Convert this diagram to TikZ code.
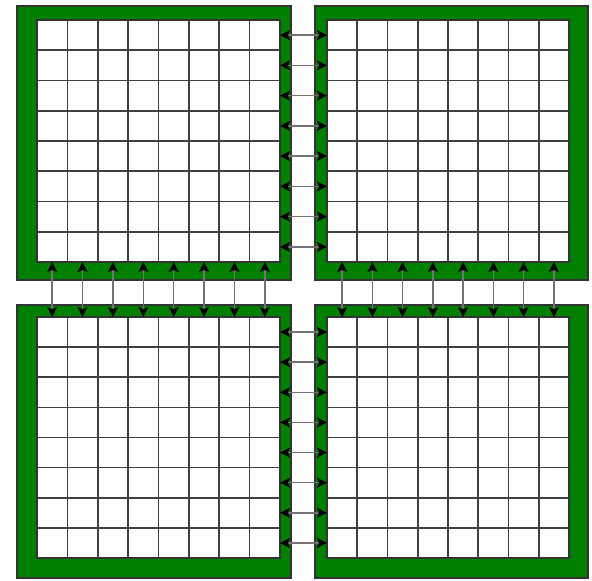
\documentclass[tikz,border=0pt]{standalone}
\usetikzlibrary{arrows.meta}
\definecolor{blockgreen}{RGB}{0,128,0}
\tikzset{
  frame/.style={fill=blockgreen, draw=black!80, line width=1.3pt},
  inner/.style={fill=white, draw=black!80, line width=1.6pt},
  gridline/.style={draw=black!75, line width=1.6pt},
  link/.style={draw=black!55, line width=1.6pt, {Stealth[length=10pt,width=10pt,inset=2pt,color=black]}-{Stealth[length=10pt,width=10pt,inset=2pt,color=black]}}
}
\begin{document}
\begin{tikzpicture}[x=1pt,y=-1pt]
\useasboundingbox (0,0) rectangle (592,581);
\foreach \n/\ox/\oy/\oX/\oY/\ix/\iy/\iX/\iY in {
  tl/17/6/291/280/37/20/280/262,
  tr/315/6/588/280/327/20/569/262,
  bl/17/305/291/578/37/317/280/558,
  br/315/305/588/578/327/317/569/558}{
  \path[frame] (\ox,\oy) rectangle (\oX,\oY);
  \path[inner] (\ix,\iy) rectangle (\iX,\iY);
  \foreach \k in {1,...,7}{
    \pgfmathsetmacro\gx{\ix+\k*(\iX-\ix)/8}
    \pgfmathsetmacro\gy{\iy+\k*(\iY-\iy)/8}
    \draw[gridline] (\gx,\iy) -- (\gx,\iY);
    \draw[gridline] (\ix,\gy) -- (\iX,\gy);
  }
}
% horizontal links
\foreach \k in {1,...,8}{
  \pgfmathsetmacro\ya{20+(\k-0.5)*242/8}
  \pgfmathsetmacro\yb{317+(\k-0.5)*241/8}
  \coordinate (tlR\k) at (280,\ya);
  \coordinate (trL\k) at (327,\ya);
  \coordinate (blR\k) at (280,\yb);
  \coordinate (brL\k) at (327,\yb);
  \draw[link] (tlR\k) -- (trL\k);
  \draw[link] (blR\k) -- (brL\k);
}
% vertical links
\foreach \k in {1,...,8}{
  \pgfmathsetmacro\xa{37+(\k-0.5)*243/8}
  \pgfmathsetmacro\xb{327+(\k-0.5)*242/8}
  \coordinate (tlB\k) at (\xa,262);
  \coordinate (blT\k) at (\xa,317);
  \coordinate (trB\k) at (\xb,262);
  \coordinate (brT\k) at (\xb,317);
  \draw[link] (tlB\k) -- (blT\k);
  \draw[link] (trB\k) -- (brT\k);
}
\end{tikzpicture}
\end{document}
